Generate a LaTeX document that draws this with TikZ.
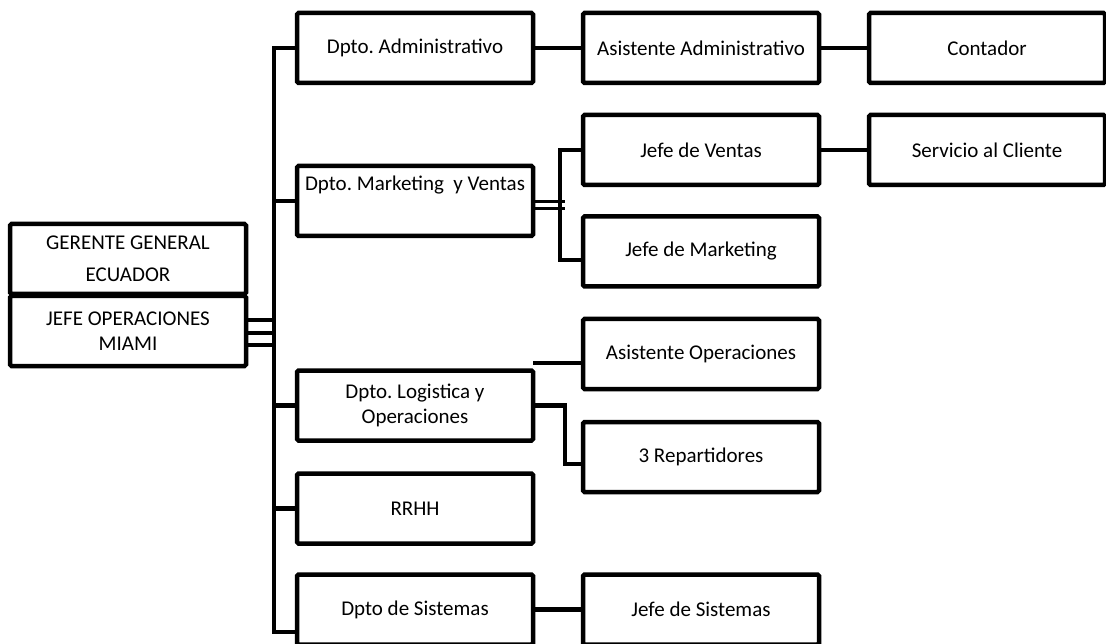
\documentclass[tikz,border=0pt]{standalone}
\usepackage{fontspec}
\setmainfont{Carlito}
\usetikzlibrary{positioning}
\frenchspacing

\begin{document}
\begin{tikzpicture}[
    x=1pt, y=-1pt,
    box/.style={draw, line width=4.5pt, rounded corners=1.5pt, fill=white, inner sep=2pt,
      minimum width=236pt, minimum height=70pt, align=center, font=\fontsize{21}{25.5}\selectfont},
    link/.style={line width=4.5pt},
    thinlink/.style={line width=3.5pt}
  ]
    \useasboundingbox (0,0) rectangle (1106,644);

    % head
    \node[box] (ger) at (128,259) {GERENTE GENERAL\\[6pt]ECUADOR};
    \node[box] (jefe) at (128,331) {JEFE OPERACIONES\\MIAMI};

    % departments
    \node[box] (adm) at (415,48) {Dpto. Administrativo};
    \node[box] (mkt) at (415,201) {Dpto. Marketing\ \ y Ventas\\[11pt]\mbox{}};
    \node[box] (log) at (415,405.5) {Dpto. Logistica y\\Operaciones};
    \node[box] (rrhh) at (415,508.5) {RRHH};
    \node[box] (sis) at (415,609.5) {Dpto de Sistemas};

    % second level
    \node[box] (asadm) at (701,48) {Asistente Administrativo};
    \node[box] (jven) at (701,150) {Jefe de Ventas};
    \node[box] (jmkt) at (701,251.5) {Jefe de Marketing};
    \node[box] (asop) at (701,354) {Asistente Operaciones};
    \node[box] (rep) at (701,457) {3 Repartidores};
    \node[box] (jsis) at (701,609.5) {Jefe de Sistemas};

    % third level
    \node[box] (cont) at (987,48) {Contador};
    \node[box] (serv) at (987,150) {Servicio al Cliente};

    % spine
    \coordinate (spT) at (274,48);
    \coordinate (spB) at (274,632);
    \draw[link] (adm.west) -- (spT) -- (spB) -- (spB -| sis.west);
    \foreach \n in {mkt,log,rrhh}
      \draw[link] (\n.west) -- (\n.west -| spT);
    \foreach \s in {11,-2,-14}
      \draw[thinlink] ([yshift=\s pt]jefe.east) -- ++(28,0);

    % branches
    \draw[link] (adm) -- (asadm);
    \draw[link] (asadm) -- (cont);
    \draw[link] (jven) -- (serv);
    \draw[link] (sis) -- (jsis);
    \foreach \s in {-0.7,-7.3}
      \draw[line width=3pt] ([yshift=\s pt]mkt.east) -- ++(30,0);
    \draw[link] (jven.west) -- ++(-21,0) |- ([yshift=-8.5pt]jmkt.west);
    \draw[thinlink] ([yshift=-9pt]asop.west) -- ++(-48,0);
    \draw[link] (log.east) -- ++(29.5,0) |- ([yshift=-7pt]rep.west);
\end{tikzpicture}
\end{document}
